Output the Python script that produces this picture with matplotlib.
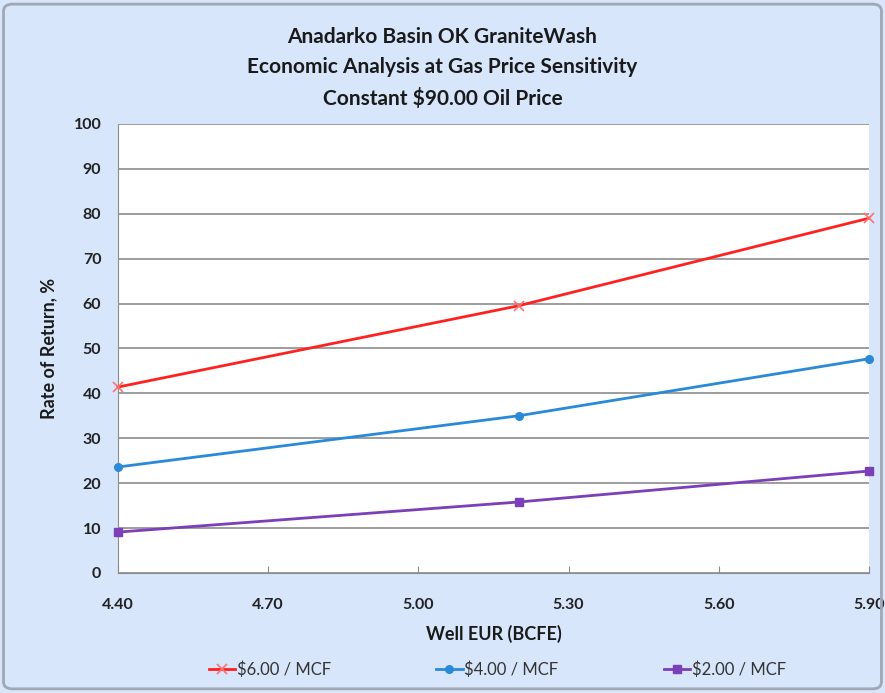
import matplotlib.pyplot as plt
from matplotlib.patches import FancyBboxPatch

eur = [4.40, 5.20, 5.90]
ror_6 = [41.4, 59.5, 79.0]
ror_4 = [23.6, 35.0, 47.7]
ror_2 = [9.1, 15.8, 22.7]
labels = ['$6.00 / MCF', '$4.00 / MCF', '$2.00 / MCF']
x_ticks = [4.40, 4.70, 5.00, 5.30, 5.60, 5.90]

plt.rcParams['font.family'] = ['Lato', 'DejaVu Sans']

fig = plt.figure(figsize=(8.85, 6.93), dpi=100)
fig.patch.set_facecolor('#d7e6fa')
fig.patches.append(FancyBboxPatch((0.004, 0.006), 0.992, 0.988, boxstyle='round,pad=0,rounding_size=0.01',
                                  transform=fig.transFigure, facecolor='none', edgecolor='#a0a8b4', lw=2))

ax = fig.add_axes([0.1333, 0.1732, 0.8486, 0.648])
ax.set_facecolor('white')
ax.plot(eur, ror_6, color='#ff2020', lw=2, marker='x', ms=7, mew=1.2, markeredgecolor='#ff7070', label=labels[0], clip_on=False, zorder=3)
ax.plot(eur, ror_4, color='#2a8ad8', lw=2, marker='o', ms=5.5, label=labels[1], clip_on=False, zorder=3)
ax.plot(eur, ror_2, color='#7b3fb8', lw=2, marker='s', ms=5.5, label=labels[2], clip_on=False, zorder=3)

ax.set_xlim(4.40, 5.90)
ax.set_ylim(0, 100)
ax.set_xticks(x_ticks)
ax.set_xticklabels(['%.2f' % t for t in x_ticks])
ax.set_yticks(range(0, 101, 10))
ax.yaxis.grid(True, color='#8c8c8c', lw=1.2)
ax.set_axisbelow(True)
for s in ['top', 'right']:
    ax.spines[s].set_visible(False)
ax.spines['left'].set_color('#8c8c8c')
ax.spines['bottom'].set_color('#8c8c8c')
ax.tick_params(axis='y', length=0, pad=12, labelsize=11.5, colors='#222222')
ax.tick_params(axis='x', direction='in', length=5, color='#8c8c8c', pad=18, labelsize=11.5, colors='#222222')
for t in ax.get_xticklabels() + ax.get_yticklabels():
    t.set_fontweight('bold')

ax.set_xlabel('Well EUR (BCFE)', fontsize=13, fontweight='bold', labelpad=9, color='#1a1a1a')
ax.set_ylabel('Rate of Return, %', fontsize=13, fontweight='bold', labelpad=12, color='#1a1a1a')

fig.text(0.5, 0.961, 'Anadarko Basin OK GraniteWash\nEconomic Analysis at Gas Price Sensitivity\nConstant $90.00 Oil Price',
         ha='center', va='top', fontsize=15, fontweight='bold', linespacing=1.64, color='#1a1a1a')

fig.legend(loc='center', bbox_to_anchor=(0.562, 0.034), ncol=3, frameon=False, fontsize=12,
           handlelength=1.6, columnspacing=6.3, handletextpad=0.1, labelcolor='#333333')

fig.savefig('out.png', dpi=100, facecolor=fig.get_facecolor())
